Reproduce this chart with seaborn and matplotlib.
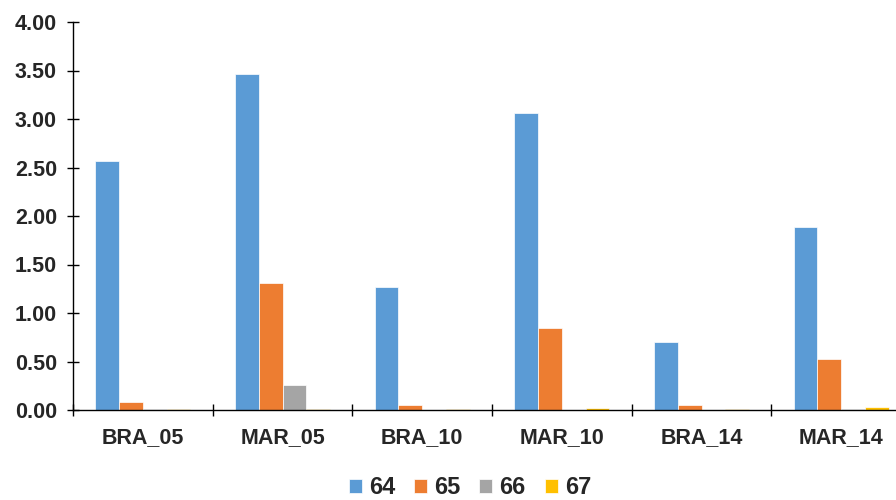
import matplotlib
matplotlib.use("Agg")
import matplotlib.pyplot as plt
import seaborn as sns
import pandas as pd
from matplotlib.ticker import MultipleLocator, FixedLocator, NullFormatter

categories = ["BRA_05", "MAR_05", "BRA_10", "MAR_10", "BRA_14", "MAR_14"]
series_names = ["64", "65", "66", "67"]
s64 = [2.57, 3.46, 1.27, 3.06, 0.70, 1.89]
s65 = [0.08, 1.31, 0.05, 0.85, 0.05, 0.53]
s66 = [0.015, 0.26, 0.00, 0.00, 0.00, 0.01]
s67 = [0.01, 0.01, 0.01, 0.02, 0.01, 0.03]
colors = ["#5B9BD5", "#ED7D31", "#A5A5A5", "#FFC000"]

rows = []
for name, vals in zip(series_names, [s64, s65, s66, s67]):
    for cat, v in zip(categories, vals):
        rows.append({"cat": cat, "series": name, "value": v})
df = pd.DataFrame(rows)

sns.set_theme(style="white")
plt.rcParams["font.family"] = ["Liberation Sans", "DejaVu Sans"]
plt.rcParams["font.weight"] = "bold"

fig = plt.figure(figsize=(8.96, 5.0), dpi=100)
ax = fig.add_axes([73 / 896, 0.18, (911 - 73) / 896, 0.776])

sns.barplot(data=df, x="cat", y="value", hue="series", order=categories,
            hue_order=series_names, palette=colors, width=0.68, gap=0,
            saturation=1, errorbar=None, ax=ax, legend=True,
            edgecolor="white", linewidth=0.5)

ax.set_xlim(-0.5, 5.5)
ax.set_ylim(0, 4)
ax.yaxis.set_major_locator(MultipleLocator(0.5))
ax.set_yticklabels([f"{v:.2f}" for v in ax.get_yticks()])
ax.xaxis.set_minor_locator(FixedLocator([i - 0.5 for i in range(7)]))
ax.xaxis.set_minor_formatter(NullFormatter())
ax.tick_params(axis="x", which="major", length=0, pad=12, labelsize=15.5)
ax.tick_params(axis="x", which="minor", length=9, width=1, color="black",
               direction="inout", bottom=True)
ax.tick_params(axis="y", which="major", length=9, width=1, color="black",
               direction="inout", left=True, labelsize=15.5, pad=7)
for lbl in ax.get_xticklabels() + ax.get_yticklabels():
    lbl.set_fontweight("bold")

for side in ["top", "right"]:
    ax.spines[side].set_visible(False)
for side in ["left", "bottom"]:
    ax.spines[side].set_color("black")
    ax.spines[side].set_linewidth(1)
ax.spines["bottom"].set_zorder(3)

ax.set_xlabel("")
ax.set_ylabel("")

handles, labels = ax.get_legend_handles_labels()
ax.legend_.remove()
fig.legend(handles, labels, loc="center", bbox_to_anchor=(470 / 896, 1 - 488 / 500),
           ncol=4, frameon=False, handlelength=0.55, handleheight=0.55,
           handletextpad=0.3, columnspacing=0.8,
           prop={"weight": "bold", "size": 17})

fig.savefig("out.png", dpi=100)
